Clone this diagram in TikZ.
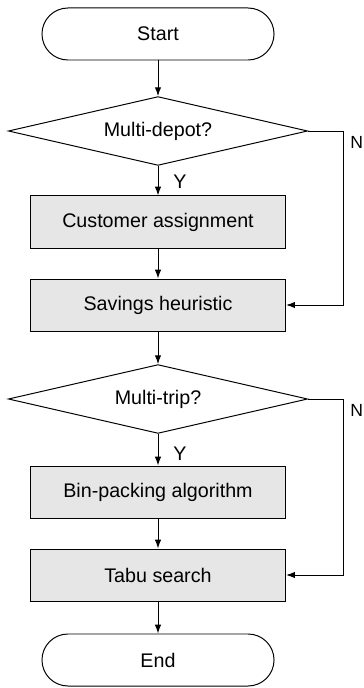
\documentclass[tikz,border=0pt]{standalone}
\usepackage{fontspec}
\setmainfont{Liberation Sans}
\usetikzlibrary{shapes.geometric,arrows.meta}
\definecolor{boxgray}{RGB}{230,230,230}
\tikzset{
    every node/.style={font=\fontsize{14}{16}\selectfont},
    terminal/.style={draw,rectangle,rounded corners=0.65cm,minimum width=5.8cm,minimum height=1.3cm,inner sep=0pt},
    decision/.style={draw,diamond,shape aspect=4.4,minimum width=7.48cm,minimum height=1.72cm,inner sep=0pt},
    process/.style={draw,rectangle,fill=boxgray,minimum width=6.38cm,minimum height=1.3cm,inner sep=0pt},
    branch/.style={anchor=west,inner sep=0pt,font=\fontsize{12.5}{14}\selectfont},
    flow/.style={-{Latex[length=2.2mm,width=1.6mm]}},
  }
\begin{document}
\begin{tikzpicture}[x=0.025cm,y=-0.025cm,line width=0.7pt]
				  %pixel units: x to the right, y downwards
				  \useasboundingbox (0,0) rectangle (363,688);
				  \node[terminal](start) at (158,34){Start};
				  \node[decision](depot) at (158,131){Multi-depot?};
				  \node[process](assign) at (158,222){Customer assignment};
				  \node[process](savings) at (158,305){Savings heuristic};
				  \node[decision](trip) at (158,399){Multi-trip?};
				  \node[process](binpack) at (158,492){Bin-packing algorithm};
				  \node[process](tabu) at (158,575){Tabu search};
				  \node[terminal](end) at (158,660){End};

				  %side branches
				  \coordinate(c1) at (343,131);
				  \coordinate(c2) at (343,399);

				  \draw[flow] (start) -- (depot);
				  \draw[flow] (depot) -- (assign);
				  \draw[flow] (assign) -- (savings);
				  \draw[flow] (savings) -- (trip);
				  \draw[flow] (trip) -- (binpack);
				  \draw[flow] (binpack) -- (tabu);
				  \draw[flow] (tabu) -- (end);
				  \draw[flow] (depot.east) -- (c1) |- (savings.east);
				  \draw[flow] (trip.east) -- (c2) |- (tabu.east);

				  \node(y1) at (180,182){Y};
				  \node(y2) at (180,454){Y};
				  \node[branch](n1) at (350,142){N};
				  \node[branch](n2) at (350,410){N};
				  \end{tikzpicture}
\end{document}
